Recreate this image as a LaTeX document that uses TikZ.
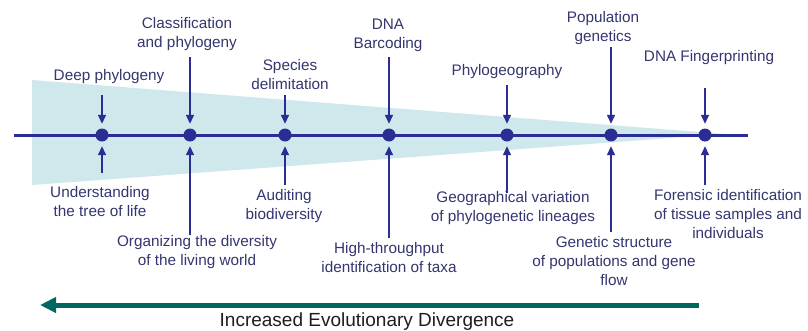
\documentclass[tikz,border=0pt]{standalone}
\usepackage{fontspec}
\setmainfont{Liberation Sans}
\usetikzlibrary{arrows.meta}
\definecolor{lineblue}{RGB}{42,46,148}
\definecolor{txtblue}{RGB}{52,54,112}
\definecolor{wedge}{RGB}{206,232,236}
\definecolor{teal}{RGB}{0,104,96}
\tikzset{
  dot/.style={circle,fill=lineblue,inner sep=0pt,minimum size=13pt},
  lab/.style={align=center,text=txtblue,inner sep=0pt,font=\fontsize{15.3}{19}\selectfont},
  conn/.style={draw=lineblue,line width=1.4pt,-{Triangle[width=8pt,length=9pt]},shorten >=4.5pt},
}
\begin{document}
\begin{tikzpicture}[x=1pt,y=-1pt]
\useasboundingbox (0,0) rectangle (808,330);
\fill[white] (0,0) rectangle (808,330);
% wedge
\fill[wedge] (32,80) -- (725,134) -- (32,185) -- cycle;
% main line
\coordinate (L) at (14,135);
\coordinate (R) at (748,135);
\draw[lineblue,line width=3pt] (L) -- (R);
% dots
\node[dot] (d1) at (102,135) {};
\node[dot] (d2) at (190,135) {};
\node[dot] (d3) at (285,135) {};
\node[dot] (d4) at (389,135) {};
\node[dot] (d5) at (507,135) {};
\node[dot] (d6) at (611,135) {};
\node[dot] (d7) at (705,135) {};
% top labels
\node[lab] (t1) at (109,77) {Deep phylogeny};
\node[lab] (t2) at (187,34.5) {Classification\\and phylogeny};
\node[lab] (t3) at (290,74.5) {Species\\delimitation};
\node[lab] (t4) at (388,35) {DNA\\Barcoding};
\node[lab] (t5) at (507,72) {Phylogeography};
\node[lab] (t6) at (603,28.5) {Population\\genetics};
\node[lab] (t7) at (709,58) {DNA Fingerprinting};
% bottom labels
\node[lab] (b1) at (100,202) {Understanding\\the tree of life};
\node[lab] (b2) at (197,252.5) {Organizing the diversity\\of the living world};
\node[lab] (b3) at (284,206) {Auditing\\biodiversity};
\node[lab] (b4) at (389,257.5) {High-throughput\\identification of taxa};
\node[lab] (b5) at (513,208) {Geographical variation\\of phylogenetic lineages};
\node[lab] (b6) at (614,261) {Genetic structure\\of populations and gene\\flow};
\node[lab] (b7) at (728,214.5) {Forensic identification\\of tissue samples and\\individuals};
% arrow start coordinates
\coordinate (s1) at (102,95);
\coordinate (s2) at (190,57);
\coordinate (s3) at (285,95);
\coordinate (s4) at (389,57);
\coordinate (s5) at (507,85);
\coordinate (s6) at (611,47);
\coordinate (s7) at (705,88);
\coordinate (u1) at (102,173);
\coordinate (u2) at (190,235);
\coordinate (u3) at (285,185);
\coordinate (u4) at (389,238);
\coordinate (u5) at (507,193);
\coordinate (u6) at (611,232);
\coordinate (u7) at (705,185);
\foreach \i in {1,...,7} {
  \draw[conn] (s\i) -- (d\i);
  \draw[conn] (u\i) -- (d\i);
}
% bottom arrow
\coordinate (gR) at (699,305);
\coordinate (gL) at (40,305);
\draw[teal,line width=5pt,-{Triangle[width=15pt,length=16pt]}] (gR) -- (gL);
\node[inner sep=0pt,text={rgb,255:red,30;green,30;blue,30},font=\fontsize{19}{22}\selectfont] (cap) at (367,322) {Increased Evolutionary Divergence};
\end{tikzpicture}
\end{document}
